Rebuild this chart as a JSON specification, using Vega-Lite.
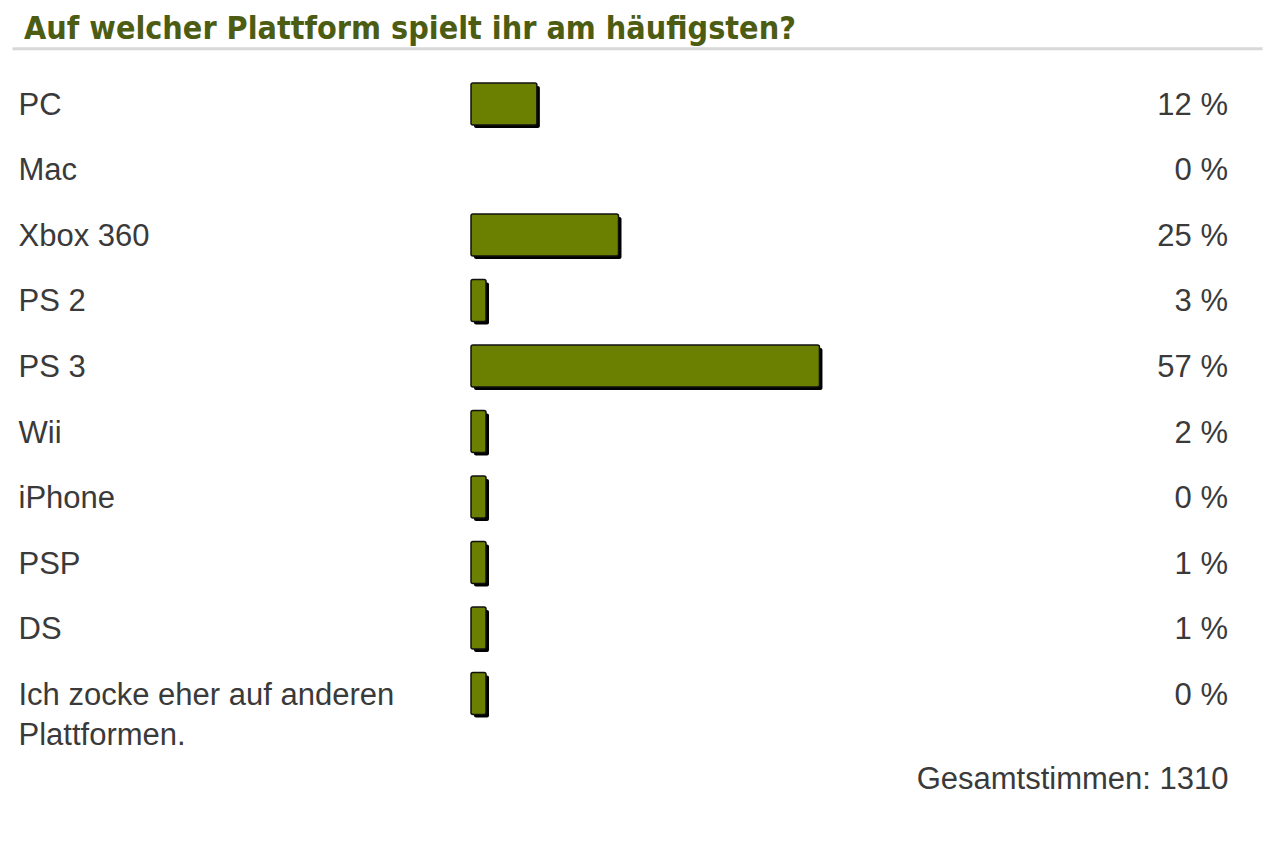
{
  "$schema": "https://vega.github.io/schema/vega-lite/v6.json",
  "autosize": {"type": "none"},
  "width": 1250,
  "height": 655,
  "padding": {"left": 12, "top": 71.25, "right": 18, "bottom": 140.75},
  "background": "#ffffff",
  "title": {
    "text": "Auf welcher Plattform spielt ihr am häufigsten?",
    "anchor": "start",
    "frame": "group",
    "orient": "top",
    "font": "DejaVu Sans Condensed",
    "fontWeight": "bold",
    "fontSize": 32,
    "color": "#4c5c12",
    "baseline": "alphabetic",
    "offset": 10,
    "dx": 12,
    "dy": 33
  },
  "config": {
    "view": {"stroke": null},
    "font": "Liberation Sans"
  },
  "data": {
    "values": [
      {"platform": "PC", "pct": 12, "hasVotes": true},
      {"platform": "Mac", "pct": 0, "hasVotes": false},
      {"platform": "Xbox 360", "pct": 25, "hasVotes": true},
      {"platform": "PS 2", "pct": 3, "hasVotes": true},
      {"platform": "PS 3", "pct": 57, "hasVotes": true},
      {"platform": "Wii", "pct": 2, "hasVotes": true},
      {"platform": "iPhone", "pct": 0, "hasVotes": true},
      {"platform": "PSP", "pct": 1, "hasVotes": true},
      {"platform": "DS", "pct": 1, "hasVotes": true},
      {"platform": "Ich zocke eher auf anderen Plattformen.", "pct": 0, "hasVotes": true}
    ]
  },
  "encoding": {
    "y": {
      "field": "platform",
      "type": "nominal",
      "sort": ["PC", "Mac", "Xbox 360", "PS 2", "PS 3", "Wii", "iPhone", "PSP", "DS", "Ich zocke eher auf anderen Plattformen."],
      "scale": {"paddingInner": 0.359, "paddingOuter": 0.179},
      "axis": {
        "title": null,
        "orient": "left",
        "domain": false,
        "ticks": false,
        "labelAlign": "left",
        "labelBaseline": "middle",
        "labelPadding": -6,
        "labelFontSize": 31,
        "labelFont": "Liberation Sans",
        "labelColor": "#3a3a3a",
        "labelLineHeight": 40,
        "labelLimit": 600,
        "labelOffset": 2,
        "labelExpr": "datum.value == 'Ich zocke eher auf anderen Plattformen.' ? ['Ich zocke eher auf anderen', 'Plattformen.'] : datum.value"
      }
    }
  },
  "layer": [
    {
      "transform": [{"filter": "datum.pct >= 5"}],
      "mark": {"type": "bar", "color": "#000000", "xOffset": 3, "x2Offset": 12.5, "yOffset": 3, "cornerRadius": 2},
      "encoding": {
        "x": {
          "field": "pct",
          "type": "quantitative",
          "scale": {"domain": [-71.58, 127.47], "nice": false, "zero": false},
          "axis": {
            "orient": "top",
            "title": null,
            "labels": false,
            "ticks": false,
            "grid": false,
            "domain": true,
            "domainColor": "#d8d8d8",
            "domainWidth": 3,
            "offset": 23
          }
        },
        "x2": {"datum": 0}
      }
    },
    {
      "transform": [{"filter": "datum.pct < 5 && datum.hasVotes"}],
      "mark": {"type": "bar", "color": "#000000", "xOffset": 27.5, "x2Offset": 12.5, "yOffset": 3, "cornerRadius": 2},
      "encoding": {
        "x": {
          "datum": 0,
          "type": "quantitative",
          "axis": {
            "orient": "bottom",
            "title": "Gesamtstimmen: 1310",
            "titleFont": "Liberation Sans",
            "titleFontSize": 31,
            "titleFontWeight": "normal",
            "titleColor": "#3a3a3a",
            "titleAlign": "right",
            "titleBaseline": "middle",
            "titleX": 1216,
            "titleY": 53,
            "labels": false,
            "ticks": false,
            "grid": false,
            "domain": false
          }
        },
        "x2": {"datum": 0}
      }
    },
    {
      "transform": [{"filter": "datum.pct >= 5"}],
      "mark": {"type": "bar", "color": "#6b8000", "stroke": "#111111", "strokeWidth": 1.5, "x2Offset": 9.5, "cornerRadius": 2},
      "encoding": {
        "x": {"field": "pct", "type": "quantitative", "axis": null},
        "x2": {"datum": 0}
      }
    },
    {
      "transform": [{"filter": "datum.pct < 5 && datum.hasVotes"}],
      "mark": {"type": "bar", "color": "#6b8000", "stroke": "#111111", "strokeWidth": 1.5, "xOffset": 24.5, "x2Offset": 9.5, "cornerRadius": 2},
      "encoding": {
        "x": {"datum": 0, "type": "quantitative", "axis": null},
        "x2": {"datum": 0}
      }
    },
    {
      "transform": [{"calculate": "datum.pct + ' %'", "as": "pctLabel"}],
      "mark": {"type": "text", "align": "right", "baseline": "middle", "fontSize": 31, "font": "Liberation Sans", "color": "#3a3a3a", "dy": 2},
      "encoding": {
        "x": {"datum": 122.05, "type": "quantitative", "axis": null},
        "text": {"field": "pctLabel"}
      }
    }
  ]
}
